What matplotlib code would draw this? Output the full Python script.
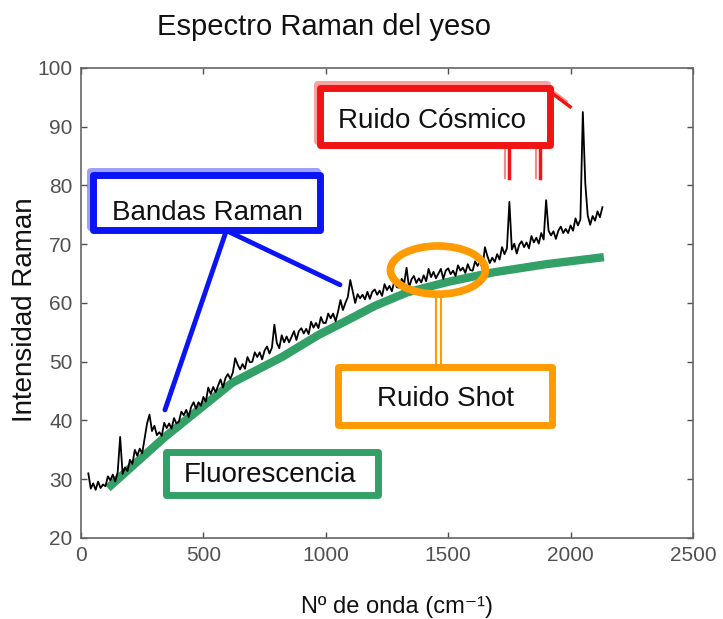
import numpy as np
import matplotlib.pyplot as plt
from matplotlib.patches import Rectangle, Ellipse

plt.rcParams['font.family'] = ['Liberation Sans', 'DejaVu Sans']

# espectro medido (cada 10 cm-1, de 30 a 2130)
numero_onda = np.arange(30, 2131, 10)
intensidad = [
    31.0, 28.4, 29.3, 28.2, 29.6, 28.5, 29.1,
    28.8, 30.5, 29.8, 30.8, 29.6, 31.2, 37.2, 30.9, 32.0, 31.4,
    33.3, 32.6, 35.0, 34.0, 35.2, 34.4, 37.0, 39.5, 41.0, 38.2,
    39.1, 37.5, 38.0, 37.4, 39.6, 38.7, 39.5, 38.6, 40.4, 39.5,
    39.8, 41.5, 40.9, 41.8, 40.6, 42.3, 43.1, 42.0, 43.1, 42.5,
    44.0, 43.2, 45.6, 44.5, 45.7, 44.8, 45.9, 47.0, 45.6, 47.2,
    47.9, 47.1, 48.1, 50.6, 49.5, 48.7, 49.6, 48.8, 50.8, 49.9,
    50.0, 51.6, 50.8, 51.6, 50.4, 51.9, 52.6, 51.4, 52.4, 56.3,
    53.2, 52.3, 54.5, 53.3, 54.3, 53.3, 54.2, 55.2, 53.7, 55.2,
    55.7, 54.8, 55.6, 54.7, 56.8, 55.8, 56.6, 55.7, 57.6, 56.6,
    56.6, 58.2, 57.4, 58.2, 56.9, 58.5, 60.5, 58.8, 60.0, 61.0,
    63.9, 62.0, 60.0, 61.5, 60.8, 61.4, 60.6, 61.9, 60.7, 61.9,
    62.3, 61.4, 62.1, 61.2, 63.2, 62.2, 62.9, 62.0, 63.7, 62.7,
    62.6, 64.1, 63.3, 66.0, 62.6, 64.0, 64.6, 63.4, 64.2, 63.5,
    64.7, 63.7, 65.8, 64.4, 65.3, 64.2, 65.0, 65.8, 64.1, 65.5,
    65.9, 64.9, 65.5, 64.6, 66.4, 65.5, 66.0, 65.1, 66.6, 65.6,
    65.5, 67.1, 66.3, 67.1, 65.8, 69.5, 68.0, 66.8, 67.7, 67.0,
    68.3, 67.4, 69.5, 68.3, 69.3, 77.2, 69.1, 70.1, 68.4, 69.9,
    70.5, 69.5, 70.3, 69.3, 71.4, 70.3, 71.1, 70.1, 71.9, 70.8,
    77.5, 72.3, 71.5, 72.2, 70.9, 72.3, 73.0, 71.9, 72.6, 71.9,
    73.2, 72.3, 74.4, 73.2, 74.2, 92.5, 80.4, 74.9, 73.3, 74.8,
    74.0, 75.6, 74.6, 76.3,
]

# fondo de fluorescencia
fluo_x = [110, 343, 617, 821, 972, 1095, 1200, 1332, 1500, 1683, 1900, 2136]
fluo_y = [28.5, 37.2, 46.4, 50.8, 54.6, 57.2, 59.5, 61.8, 63.6, 65.2, 66.6, 67.8]

rojo = '#f01414'
azul = '#0a14f5'
naranja = '#ff9a00'
verde = '#33a068'
gris = '#505050'

fig = plt.figure(figsize=(7.23, 6.19), dpi=100)
ax = fig.add_axes([0.112, 0.1309, 0.8465, 0.7593])

ax.plot(fluo_x, fluo_y, color=verde, lw=6, solid_capstyle='butt', zorder=2)
ax.plot(numero_onda, intensidad, color='black', lw=1.3, zorder=3)

ax.set_xlim(0, 2500)
ax.set_ylim(20, 100)
ax.set_xticks(np.arange(0, 2501, 500))
ax.set_yticks(np.arange(20, 101, 10))
ax.tick_params(direction='in', top=True, right=True, length=4, width=1,
               color=gris, labelsize=15, labelcolor=gris, pad=6)
for s in ax.spines.values():
    s.set_color('#666666')
    s.set_linewidth(1.2)


def caja(x0, y0, x1, y1, color, texto, tx, ty, sombra=False):
    if sombra:
        ax.add_patch(Rectangle((x0 - 12, y0 + 0.6), x1 - x0, y1 - y0, fill=False,
                               ec=color, lw=5, alpha=0.4, joinstyle='round', zorder=4))
    ax.add_patch(Rectangle((x0, y0), x1 - x0, y1 - y0, fill=True, fc='white',
                           ec=color, lw=5, joinstyle='round', zorder=5))
    ax.text(tx, ty, texto, fontsize=20, ha='center', va='center', color='#111111', zorder=6)


# ruido cosmico
for xa, xb in [(1732, 1748), (1859, 1875)]:
    ax.plot([xa, xa], [86.9, 81.3], color=rojo, lw=1.5, alpha=0.5, zorder=4)
    ax.plot([xb, xb], [86.9, 81.3], color=rojo, lw=2.5, zorder=4)
ax.plot([1924, 1998], [95.7, 93.4], color=rojo, lw=2.5, zorder=4)
ax.plot([1912, 1985], [96.6, 94.3], color=rojo, lw=1.5, alpha=0.5, zorder=4)
caja(976, 86.9, 1916, 96.6, rojo, 'Ruido Cósmico', 1434, 91.0, sombra=True)

# bandas Raman
ax.plot([592, 343], [72.1, 41.8], color=azul, lw=3.5, solid_capstyle='round', zorder=4)
ax.plot([605, 1058], [72.1, 63.1], color=azul, lw=3.5, solid_capstyle='round', zorder=4)
caja(49, 72.4, 976, 81.8, azul, 'Bandas Raman', 515, 75.3, sombra=True)

# ruido shot
ax.add_patch(Ellipse((1458, 65.6), 388, 8.2, fill=False, ec=naranja, lw=5.5, zorder=4))
ax.plot([1450, 1450], [61.4, 49.1], color=naranja, lw=1.5, zorder=4)
ax.plot([1471, 1471], [61.4, 49.1], color=naranja, lw=1.5, zorder=4)
caja(1050, 39.2, 1924, 49.1, naranja, 'Ruido Shot', 1491, 43.7)

# fluorescencia
caja(347, 27.3, 1213, 34.6, verde, 'Fluorescencia', 772, 30.7)

fig.text(0.448, 0.956, 'Espectro Raman del yeso', fontsize=21, ha='center', va='center', color='#111111')
fig.text(0.035, 0.499, 'Intensidad Raman', fontsize=20, rotation=90, ha='center', va='center', color='#111111')
fig.text(0.549, 0.019, 'Nº de onda (cm⁻¹)', fontsize=17, ha='center', va='center', color='#111111')

fig.savefig('out.png', dpi=100)
